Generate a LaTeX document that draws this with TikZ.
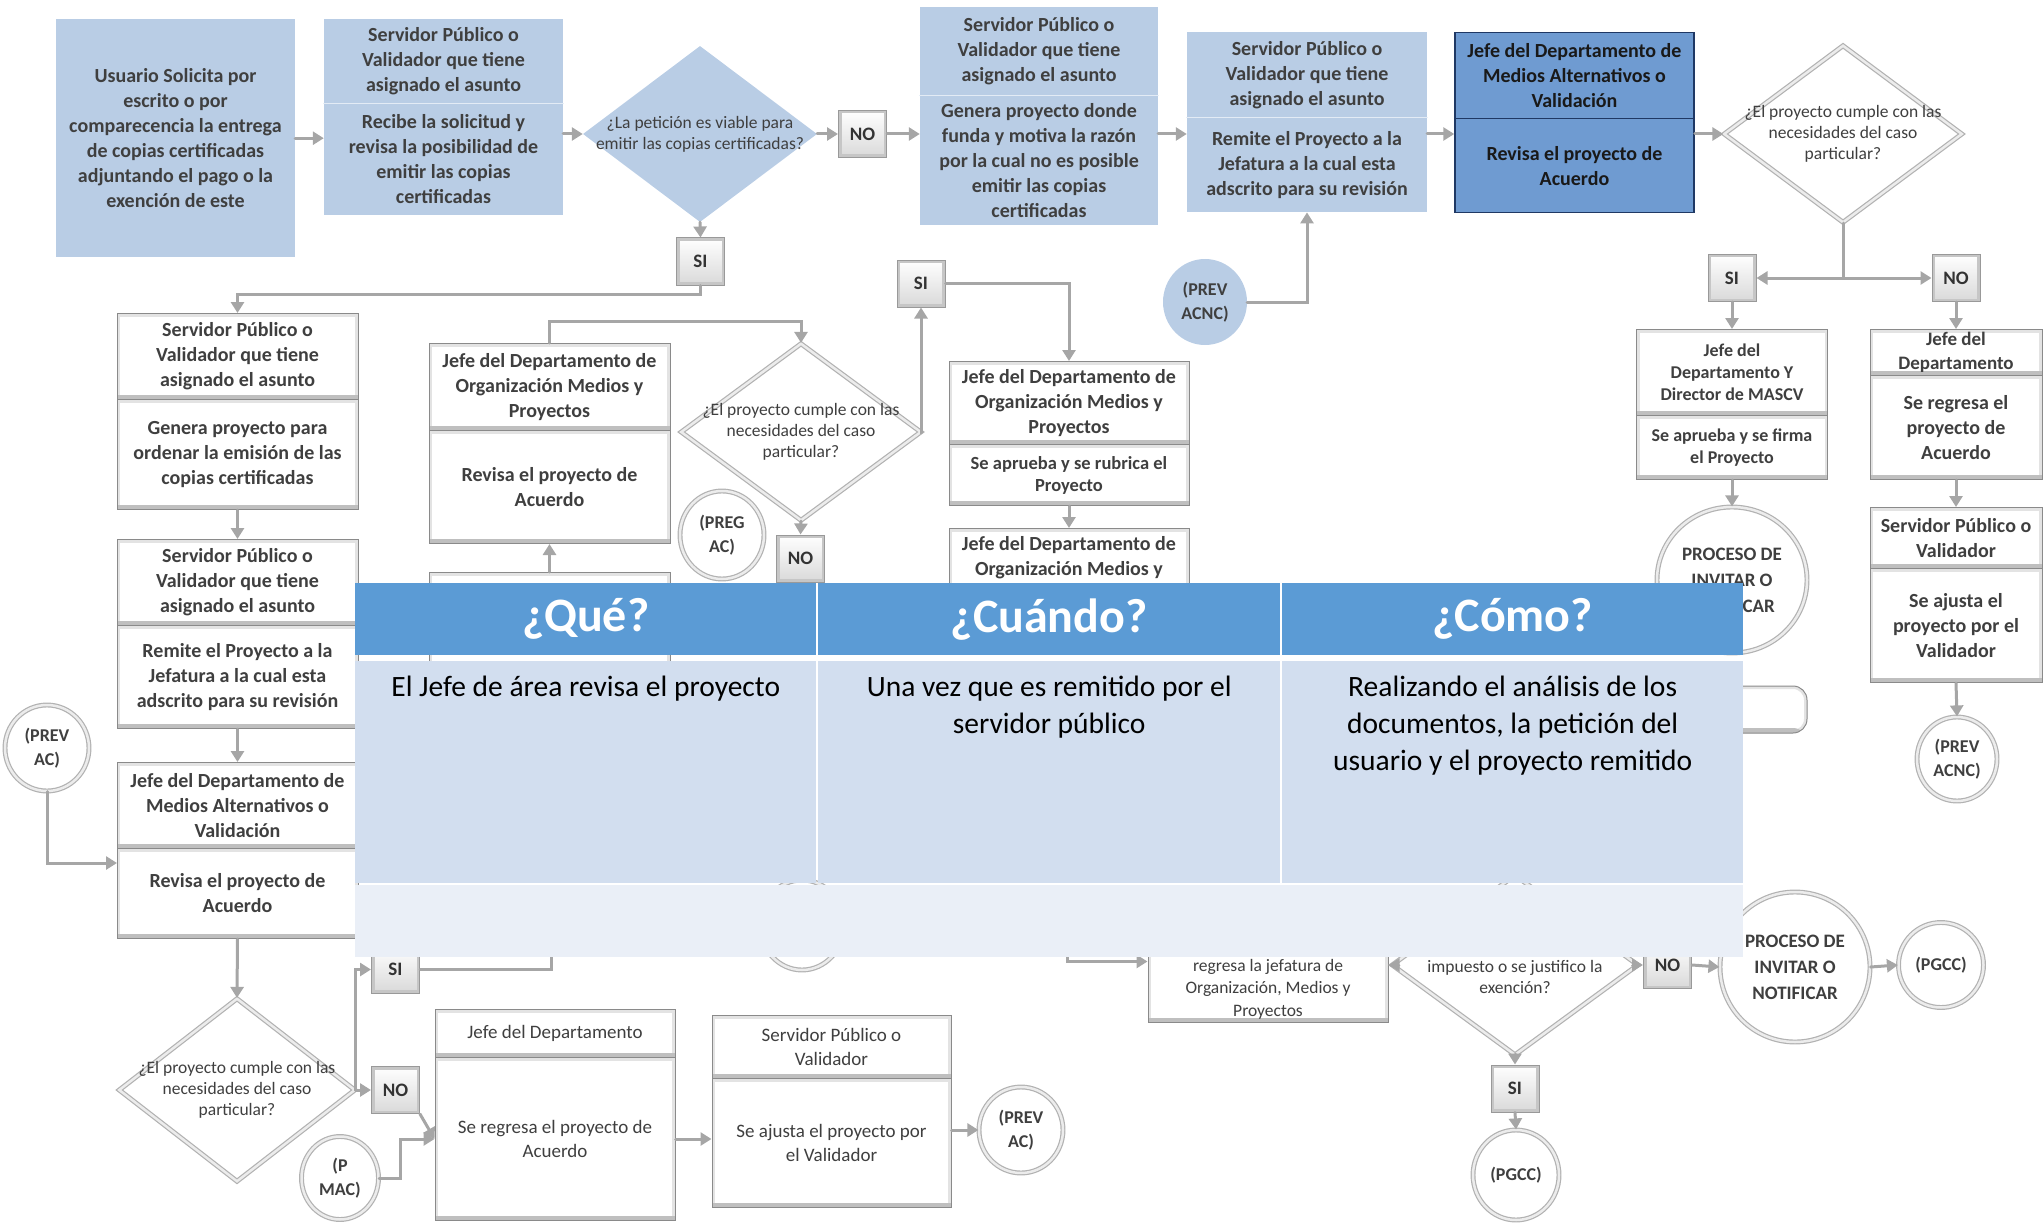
\documentclass[tikz,border=0pt]{standalone}
\usepackage{fontspec}
\setmainfont{Carlito}
\usetikzlibrary{arrows.meta,shapes.geometric}

\definecolor{lightblue}{HTML}{B9CDE5}
\definecolor{midblue}{HTML}{6F9BD1}
\definecolor{navy}{HTML}{1F3864}
\definecolor{linegray}{HTML}{A6A6A6}
\definecolor{edgegray}{HTML}{8A8A8A}
\definecolor{txtgray}{HTML}{3F3F3F}
\definecolor{headblue}{HTML}{5B9BD5}
\definecolor{rowone}{HTML}{D2DEEF}
\definecolor{rowtwo}{HTML}{EAEFF7}

\begin{document}
\begin{tikzpicture}[x=1pt,y=-1pt,line cap=round,
    >={Triangle[length=11pt,width=13pt]},
    every node/.style={align=center,inner sep=0pt,text=txtgray,
      font=\bfseries\fontsize{20}{25}\selectfont},
    sec/.style 2 args={anchor=north,minimum width=#1,minimum height=#2},
    flow/.style={draw=linegray,line width=3pt},
    paleblue/.style={fill=lightblue},
    divline/.style={draw=white!60!lightblue,line width=1.5pt},
    darkbox/.style={fill=midblue,draw=navy,line width=1.5pt,text=black!90},
    bevel/.style={fill=white,draw=edgegray,line width=1pt,
      path picture={
        \draw[gray!22,line width=6pt] (path picture bounding box.north west)
          rectangle (path picture bounding box.south east);
        \fill[gray!50] ([yshift=5pt]path picture bounding box.south west)
          rectangle (path picture bounding box.south east);}},
    btn/.style={draw=gray!80,line width=1pt,top color=white,bottom color=gray!30,
      minimum width=48,minimum height=47,text=black!80,
      font=\bfseries\fontsize{19}{22}\selectfont,
      path picture={\draw[gray!45,line width=6pt] (path picture bounding box.north west)
          rectangle (path picture bounding box.south east);}},
    dia/.style={diamond,fill=white,draw=gray!60,line width=1.2pt,
      double=gray!15,double distance=2.5pt},
    bluedia/.style={diamond,fill=lightblue},
    bubble/.style={ellipse,fill=white,draw=gray!60,line width=1.2pt,
      double=gray!15,double distance=2.5pt},
    qtext/.style={font=\fontsize{17.5}{21}\selectfont},
    smalltxt/.style={font=\bfseries\fontsize{18}{22}\selectfont},
    plaintxt/.style={font=\fontsize{19}{24}\selectfont},
    ctext/.style={font=\bfseries\fontsize{18}{24}\selectfont},
    head/.style={fill=headblue,text=white,anchor=north west,
      font=\bfseries\fontsize{48}{58}\selectfont},
    cell/.style={anchor=north west},
    bodytxt/.style={text=black,anchor=north,font=\fontsize{29.5}{36.7}\selectfont}]
    \useasboundingbox (0,0) rectangle (2043,1225);

    % fila superior
    \node[paleblue,sec={239}{238}] (usr) at (175.5,19)
      {Usuario Solicita por\\escrito o por\\comparecencia la entrega\\de copias certificadas\\adjuntando el pago o la\\exención de este};
    \node[paleblue,sec={239}{84}] (rec1) at (443.5,19)
      {Servidor Público o\\Validador que tiene\\asignado el asunto};
    \node[paleblue,sec={239}{112}] (rec2) at (443.5,103)
      {Recibe la solicitud y\\revisa la posibilidad de\\emitir las copias\\certificadas};
    \draw[divline] (rec1.south west) -- (rec1.south east);
    \node[bluedia,minimum width=234,minimum height=176,
      label={[qtext]center:{¿La petición es viable para\\emitir las copias certificadas?}}] (via) at (700,134) {};
    \node[btn] (no1) at (862.5,134) {NO};
    \node[paleblue,sec={238}{88}] (neg1) at (1039,7)
      {Servidor Público o\\Validador que tiene\\asignado el asunto};
    \node[paleblue,sec={238}{130}] (neg2) at (1039,95)
      {Genera proyecto donde\\funda y motiva la razón\\por la cual no es posible\\emitir las copias\\certificadas};
    \draw[divline] (neg1.south west) -- (neg1.south east);
    \node[paleblue,sec={240}{85}] (rem1) at (1307,32)
      {Servidor Público o\\Validador que tiene\\asignado el asunto};
    \node[paleblue,sec={240}{95}] (rem2) at (1307,117)
      {Remite el Proyecto a la\\Jefatura a la cual esta\\adscrito para su revisión};
    \draw[divline] (rem1.south west) -- (rem1.south east);
    \node[darkbox,sec={239}{86}] (jam1) at (1574.5,32)
      {Jefe del Departamento de\\Medios Alternativos o\\Validación};
    \node[darkbox,sec={239}{94}] (jam2) at (1574.5,118) {Revisa el proyecto de\\Acuerdo};
    \node[dia,minimum width=238,minimum height=177,
      label={[qtext]center:{¿El proyecto cumple con las\\necesidades del caso\\particular?}}] (cum1) at (1843,134) {};
    \node[btn] (si2) at (1732,278) {SI};
    \node[btn] (no2) at (1956,278) {NO};
    \node[paleblue,ellipse,minimum width=84,minimum height=86,ctext] (acnc2) at (1205,302) {(PREV\\ACNC)};

    % columna derecha
    \node[bevel,sec={191}{86},smalltxt] (mascv1) at (1732,329) {Jefe del\\Departamento Y\\Director de MASCV};
    \node[bevel,sec={191}{64},smalltxt] (mascv2) at (1732,415) {Se aprueba y se firma\\el Proyecto};
    \node[bubble,minimum width=150,minimum height=146,font=\bfseries\fontsize{19}{26}\selectfont] (inv1)
      at (1732,580) {PROCESO DE\\INVITAR O\\NOTIFICAR};
    \node[bevel,rounded corners=14pt,minimum width=110,minimum height=47] (ret) at (1752,709.5) {};
    \node[bevel,sec={172}{46},font=\bfseries\fontsize{19}{24}\selectfont] (reg1) at (1956,329) {Jefe del\\Departamento};
    \node[bevel,sec={172}{104}] (reg2) at (1956,375) {Se regresa el\\proyecto de\\Acuerdo};
    \node[bevel,sec={172}{61}] (aju1) at (1956,507) {Servidor Público o\\Validador};
    \node[bevel,sec={172}{114}] (aju2) at (1956,568) {Se ajusta el\\proyecto por el\\Validador};
    \node[bubble,minimum width=80,minimum height=84,ctext] (acnc1) at (1957,759) {(PREV\\ACNC)};

    % columna izquierda
    \node[btn] (si1) at (700.5,261.5) {SI};
    \node[bevel,sec={241}{86}] (gen1) at (237.5,313) {Servidor Público o\\Validador que tiene\\asignado el asunto};
    \node[bevel,sec={241}{110}] (gen2) at (237.5,399) {Genera proyecto para\\ordenar la emisión de las\\copias certificadas};
    \node[bevel,sec={241}{86}] (env1) at (237.5,539) {Servidor Público o\\Validador que tiene\\asignado el asunto};
    \node[bevel,sec={241}{103}] (env2) at (237.5,625) {Remite el Proyecto a la\\Jefatura a la cual esta\\adscrito para su revisión};
    \node[bevel,sec={241}{86}] (jmv1) at (237.5,762) {Jefe del Departamento de\\Medios Alternativos o\\Validación};
    \node[bevel,sec={241}{90}] (jmv2) at (237.5,848) {Revisa el proyecto de\\Acuerdo};
    \node[bubble,minimum width=84,minimum height=86,ctext] (prev1) at (47,748) {(PREV\\AC)};
    \coordinate (jin) at (117,863);
    \node[dia,minimum width=236,minimum height=183,
      label={[qtext]center:{¿El proyecto cumple con las\\necesidades del caso\\particular?}}] (cum3) at (237,1090) {};
    \node[btn] (si3) at (395.5,969.5) {SI};
    \node[btn] (no3) at (395.5,1090) {NO};
    \node[bubble,minimum width=77,minimum height=83,ctext] (pmac) at (340,1178) {(P\\MAC)};
    \node[bevel,sec={240}{48},plaintxt] (jd1) at (555,1009) {Jefe del Departamento};
    \node[bevel,sec={240}{163},plaintxt] (jd2) at (555,1057) {Se regresa el proyecto de\\Acuerdo};
    \node[bevel,sec={239}{63},plaintxt] (sv1) at (831.5,1015) {Servidor Público o\\Validador};
    \node[bevel,sec={239}{129},plaintxt] (sv2) at (831.5,1078) {Se ajusta el proyecto por\\el Validador};
    \node[bubble,minimum width=84,minimum height=86,ctext] (prev2) at (1021,1130) {(PREV\\AC)};
    \coordinate (hid1) at (551,930);

    % centro
    \node[bevel,sec={241}{87}] (org1) at (549.5,343) {Jefe del Departamento de\\Organización Medios y\\Proyectos};
    \node[bevel,sec={241}{113}] (org2) at (549.5,430) {Revisa el proyecto de\\Acuerdo};
    \node[bevel,sec={241}{100}] (orgb) at (549.5,572) {};
    \node[dia,minimum width=240,minimum height=177,
      label={[qtext]center:{¿El proyecto cumple con las\\necesidades del caso\\particular?}}] (cum2) at (801,432) {};
    \node[btn] (si4) at (921,283.5) {SI};
    \node[btn] (no4) at (800.5,558.5) {NO};
    \node[bubble,minimum width=84,minimum height=88,ctext] (preg) at (722,535) {(PREG\\AC)};
    \node[bevel,sec={240}{83}] (rub1) at (1069,361) {Jefe del Departamento de\\Organización Medios y\\Proyectos};
    \node[bevel,sec={240}{61},font=\bfseries\fontsize{18.5}{22}\selectfont] (rub2) at (1069,444) {Se aprueba y se rubrica el\\Proyecto};
    \node[bevel,sec={240}{86}] (orgc) at (1069,528) {};
    \node[anchor=north] (orgctxt) at (1069,536) {Jefe del Departamento de\\Organización Medios y};
    \node[bubble,minimum width=84,minimum height=90] (circ) at (802,925) {};
    \coordinate (hid2) at (1067,930);
    \node[bevel,sec={240}{122}] (jor) at (1268,900) {};
    \node[anchor=north,font=\fontsize{17.5}{22.5}\selectfont] (jortxt) at (1268,959)
      {regresa la jefatura de\\Organización, Medios y\\Proyectos};
    \node[dia,minimum width=246,minimum height=180] (pago) at (1515,965) {};
    \node[qtext,anchor=north] (pagotxt) at (1515,960) {impuesto o se justifico la\\exención?};
    \node[btn] (si5) at (1515,1088.5) {SI};
    \node[btn] (no5) at (1667.5,965) {NO};
    \node[bubble,minimum width=86,minimum height=90,ctext] (pgcc1) at (1516,1175) {(PGCC)};
    \node[bubble,minimum width=150,minimum height=150,font=\bfseries\fontsize{19}{26}\selectfont] (inv2)
      at (1795,967) {PROCESO DE\\INVITAR O\\NOTIFICAR};
    \node[bubble,minimum width=85,minimum height=85,ctext] (pgcc2) at (1941,965) {(PGCC)};

    % conectores
    \draw[flow,->] (usr.east) -- (usr.east -| rec2.west);
    \draw[flow,->] (via.west -| rec2.east) -- (via.west);
    \draw[flow,->] (via.east) -- (no1.west);
    \draw[flow,->] (no1.east) -- (no1.east -| neg2.west);
    \draw[flow,->] (neg2.east |- cum1.west) -- (rem2.west |- cum1.west);
    \draw[flow,->] (rem2.east |- cum1.west) -- (jam2.west |- cum1.west);
    \draw[flow,->] (jam2.east |- cum1.west) -- (cum1.west);
    \draw[flow] (cum1.south) -- (cum1.south |- si2.east);
    \draw[flow,<->] (si2.east) -- (no2.west);
    \draw[flow,->] (si2.south) -- (mascv1.north);
    \draw[flow,->] (mascv2.south) -- (inv1.north);
    \draw[flow,->] (no2.south) -- (reg1.north);
    \draw[flow,->] (reg2.south) -- (aju1.north);
    \draw[flow,->] (aju2.south) -- (acnc1.north);
    \draw[flow,->] (acnc2.east) -| (rem2.south);
    \draw[flow,->] (via.south) -- (si1.north);
    \draw[flow,->] (si1.south) -- ++(0,9) -| (gen1.north);
    \draw[flow,->] (gen2.south) -- (env1.north);
    \draw[flow,->] (env2.south) -- (jmv1.north);
    \draw[flow,->] (prev1.south) |- (jin);
    \draw[flow,->] (jmv2.south) -- (cum3.north);
    \draw[flow,->] (cum3.east) -- (no3.west);
    \draw[flow,->] (cum3.east) |- (si3.west);
    \draw[flow] (si3.east) -| (hid1);
    \draw[flow,->] (no3.south east) -- (jd2.west);
    \draw[flow,->] (pmac.east) -- ++(21,0) |- (jd2.west);
    \draw[flow,->] (jd2.east) -- (jd2.east -| sv2.west);
    \draw[flow,->] (sv2.east |- prev2.west) -- (prev2.west);
    \draw[flow,->] (org1.north) -- ++(0,-22) -| (cum2.north);
    \draw[flow,->] (orgb.north) -- (org2.south);
    \draw[flow,->] (cum2.east) -| (si4.south);
    \draw[flow,->] (si4.east) -| (rub1.north);
    \draw[flow,->] (cum2.south) -- (no4.north);
    \draw[flow,->] (rub2.south) -- (orgc.north);
    \draw[flow,->] (hid2) |- (jor.west);
    \draw[flow,->] (pago.west) -- (jor.east |- pago.west);
    \draw[flow,->] (pago.east) -- (no5.west);
    \draw[flow,->] (no5.east) -- (inv2.west);
    \draw[flow,->] (inv2.east) -- (pgcc2.west);
    \draw[flow,->] (pago.south) -- (si5.north);
    \draw[flow,->] (si5.south) -- (pgcc1.north);

    % tabla
    \node[head,minimum width=461,minimum height=72] (hq) at (355,583) {¿Qué?};
    \node[head,minimum width=462,minimum height=72] (hw) at (818,583) {¿Cuándo?};
    \node[head,minimum width=461,minimum height=72] (hc) at (1282,583) {¿Cómo?};
    \node[cell,fill=rowone,minimum width=461,minimum height=222] (bq) at (355,661) {};
    \node[cell,fill=rowone,minimum width=462,minimum height=222] (bw) at (818,661) {};
    \node[cell,fill=rowone,minimum width=461,minimum height=222] (bc) at (1282,661) {};
    \node[cell,fill=rowtwo,minimum width=1388,minimum height=72] (br) at (355,885) {};
    \node[bodytxt] (tq) at ([yshift=-15pt]bq.north) {El Jefe de área revisa el proyecto};
    \node[bodytxt] (tw) at ([yshift=-15pt]bw.north) {Una vez que es remitido por el\\servidor público};
    \node[bodytxt] (tc) at ([yshift=-15pt]bc.north) {Realizando el análisis de los\\documentos, la petición del\\usuario y el proyecto remitido};
\end{tikzpicture}
\end{document}
